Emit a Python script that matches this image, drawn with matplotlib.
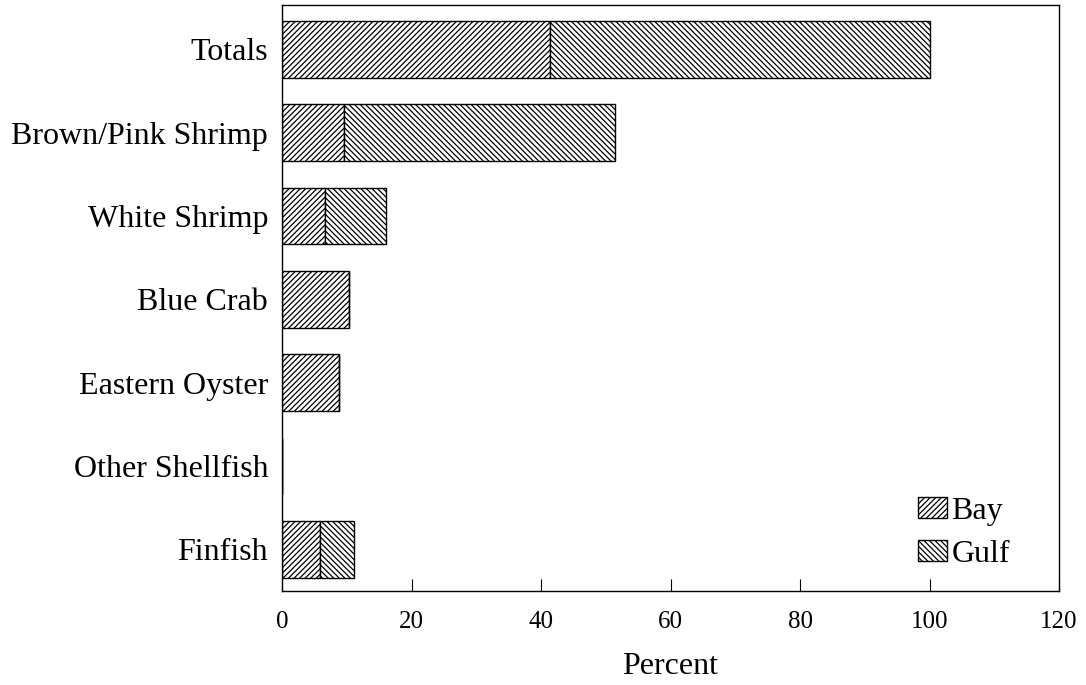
import numpy as np
import matplotlib.pyplot as plt

plt.rcParams['font.family'] = ['Liberation Serif', 'DejaVu Serif']
plt.rcParams['hatch.linewidth'] = 0.9

# data (percent), bottom to top
categories = ['Finfish', 'Other Shellfish', 'Eastern Oyster', 'Blue Crab',
              'White Shrimp', 'Brown/Pink Shrimp', 'Totals']
bay = [5.9, 0.0, 8.8, 10.4, 6.6, 9.5, 41.4]
gulf = [5.2, 0.0, 0.0, 0.0, 9.4, 41.9, 58.6]

fig = plt.figure(figsize=(10.86, 6.85), dpi=100)
ax = fig.add_axes([0.2597, 0.137, 0.7155, 0.8555])

y = np.arange(len(categories))
ax.barh(y, bay, height=0.68, color='white', edgecolor='black', linewidth=1.0,
        hatch='//////', label='Bay')
ax.barh(y, gulf, left=bay, height=0.68, color='white', edgecolor='black',
        linewidth=1.0, hatch='\\\\\\\\\\\\', label='Gulf')

ax.set_xlim(0, 120)
ax.set_ylim(-0.5, 6.53)
ax.set_xticks(range(0, 121, 20))
ax.set_yticks(y)
ax.set_yticklabels(categories, fontsize=23)
ax.tick_params(axis='x', direction='in', length=9, labelsize=18, pad=14)
ax.tick_params(axis='y', length=0, pad=10)
ax.set_xlabel('Percent', fontsize=23, labelpad=14)

for s in ax.spines.values():
    s.set_linewidth(1.0)

ax.legend(loc='lower right', bbox_to_anchor=(0.937, 0.038), frameon=False,
          fontsize=23, handlelength=0.9, handleheight=0.65, handletextpad=0.15,
          labelspacing=0.45, borderpad=0, borderaxespad=0)

fig.savefig('out.png', dpi=100)
